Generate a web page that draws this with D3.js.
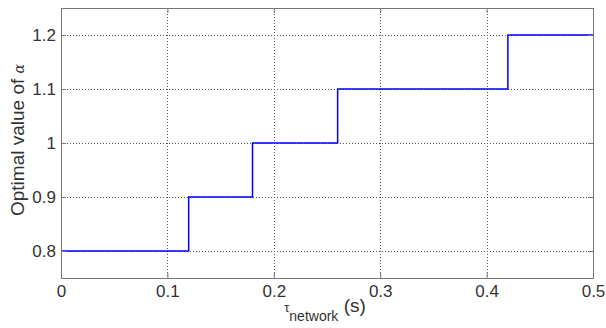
<!DOCTYPE html>
<html>
<head>
<meta charset="utf-8">
<script src="https://cdn.jsdelivr.net/npm/d3@7"></script>
<style>
  body { margin: 0; background: #fff; }
  text { font-family: "Liberation Sans", Arial, sans-serif; }
</style>
</head>
<body>
<div class="containers"></div>
<script>
// step edges (s) and the optimal alpha on each step
const tauEdges = [0, 0.12, 0.18, 0.26, 0.42, 0.5]
const alphaValues = [0.8, 0.9, 1.0, 1.1, 1.2]
const xTicks = [0, 0.1, 0.2, 0.3, 0.4, 0.5]
const yTicks = [0.8, 0.9, 1.0, 1.1, 1.2]

const width = 606
const height = 328
const margin = { left: 61, right: 13, top: 8, bottom: 50 }

const x = d3.scaleLinear().domain([0, 0.5]).range([margin.left, width - margin.right])
const y = d3.scaleLinear().domain([0.75, 1.25]).range([height - margin.bottom, margin.top])

const svg = d3.select('.containers')
  .append('svg')
  .attr('width', width)
  .attr('height', height)

// grid
svg.append('g')
  .attr('stroke', '#555')
  .attr('stroke-width', 1)
  .attr('stroke-dasharray', '1,2')
  .call(g => {
    g.selectAll('.vx').data(xTicks.slice(1, -1)).join('line')
      .attr('x1', d => Math.round(x(d)) + 0.5).attr('x2', d => Math.round(x(d)) + 0.5)
      .attr('y1', y(1.25)).attr('y2', y(0.75))
    g.selectAll('.hy').data(yTicks).join('line')
      .attr('y1', d => Math.round(y(d)) + 0.5).attr('y2', d => Math.round(y(d)) + 0.5)
      .attr('x1', x(0)).attr('x2', x(0.5))
  })

// step line
const pts = []
alphaValues.forEach((a, i) => {
  pts.push([tauEdges[i], a])
  pts.push([tauEdges[i + 1], a])
})
const line = d3.line().x(d => x(d[0])).y(d => y(d[1]))
svg.append('path')
  .datum(pts)
  .attr('fill', 'none')
  .attr('stroke', '#0000ff')
  .attr('stroke-width', 1.5)
  .attr('d', line)

// axes (box)
const xAxis = d3.axisBottom(x).tickValues(xTicks).tickSize(-5).tickPadding(7)
  .tickFormat(d => d === 0 ? '0' : d3.format('.1f')(d))
const yAxis = d3.axisLeft(y).tickValues(yTicks).tickSize(-5).tickPadding(5)
  .tickFormat(d => d === 1 ? '1' : d3.format('.1f')(d))

const styleAxis = g => {
  g.selectAll('path, line').attr('stroke', '#777')
  g.selectAll('text').attr('fill', '#333').style('font-size', '17px')
    .style('font-family', '"Liberation Sans", Arial, sans-serif')
}

svg.append('g')
  .attr('transform', `translate(0,${y(0.75)})`)
  .call(xAxis)
  .call(styleAxis)
svg.append('g')
  .attr('transform', `translate(${x(0)},0)`)
  .call(yAxis)
  .call(styleAxis)
svg.append('g')
  .attr('transform', `translate(0,${y(1.25)})`)
  .call(d3.axisTop(x).tickValues(xTicks).tickSize(-5).tickFormat(''))
  .call(styleAxis)
svg.append('g')
  .attr('transform', `translate(${x(0.5)},0)`)
  .call(d3.axisRight(y).tickValues(yTicks).tickSize(-5).tickFormat(''))
  .call(styleAxis)

// axis labels
const xl = svg.append('text')
  .attr('x', 325)
  .attr('y', 312)
  .attr('text-anchor', 'middle')
  .attr('fill', '#333')
  .style('font-size', '19px')
xl.append('tspan').style('font-size', '13px').text('τ')
xl.append('tspan').attr('dy', 9).style('font-size', '14px').text('network')
xl.append('tspan').attr('dy', -9).text(' (s)')

const yl = svg.append('text')
  .attr('transform', `translate(24,140) rotate(-90)`)
  .attr('text-anchor', 'middle')
  .attr('fill', '#333')
  .style('font-size', '19px')
yl.append('tspan').text('Optimal value of ')
yl.append('tspan').style('font-family', '"DejaVu Serif", serif').style('font-style', 'italic').style('font-size', '14px').text('α')
</script>
</body>
</html>
